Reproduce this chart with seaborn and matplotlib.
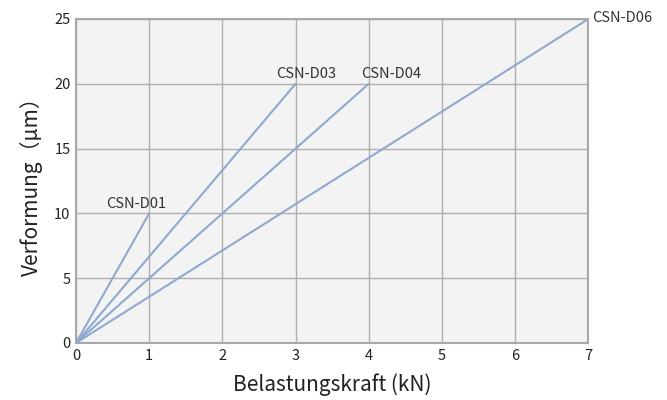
import pandas as pd
import matplotlib
matplotlib.use("Agg")
import matplotlib.pyplot as plt
import seaborn as sns

# Daten: Belastungskraft (kN) -> Verformung (µm)
modelle = ["CSN-D01", "CSN-D03", "CSN-D04", "CSN-D06"]
kraft_max = [1, 3, 4, 7]
verformung_max = [10, 20, 20, 25]

rows = []
for m, k, v in zip(modelle, kraft_max, verformung_max):
    rows.append({"Modell": m, "kraft": 0, "verformung": 0})
    rows.append({"Modell": m, "kraft": k, "verformung": v})
df = pd.DataFrame(rows)

sns.set_style("whitegrid")
plt.rcParams["font.family"] = ["Noto Sans CJK JP", "DejaVu Sans"]

fig = plt.figure(figsize=(6.67, 4), dpi=100)
ax = fig.add_axes([0.114, 0.1425, 0.768, 0.81])
ax.set_facecolor("#f3f3f3")

linie = "#8fa9cf"
sns.lineplot(data=df, x="kraft", y="verformung", units="Modell", estimator=None,
             color=linie, linewidth=1.5, ax=ax, legend=False)

# Beschriftungen an den Linienenden (horizontaler Versatz in kN)
versatz = {"CSN-D01": -0.18, "CSN-D03": 0.15, "CSN-D04": 0.3}
for m, k, v in zip(modelle, kraft_max, verformung_max):
    if m == "CSN-D06":
        ax.text(k + 0.05, v + 0.1, m, ha="left", va="center", fontsize=10.5, color="#333333")
    else:
        ax.text(k + versatz[m], v + 0.2, m, ha="center", va="bottom", fontsize=10.5, color="#333333")

ax.set_xlim(0, 7)
ax.set_ylim(0, 25)
ax.set_xticks(range(0, 8))
ax.set_yticks(range(0, 26, 5))
ax.grid(True, color="#b0b0b0", linewidth=1)
for s in ax.spines.values():
    s.set_visible(True)
    s.set_color("#a8a8a8")
    s.set_linewidth(1.5)
ax.tick_params(length=0, pad=4, labelsize=10.5, colors="#222222")

ax.set_xlabel("Belastungskraft (kN)", fontsize=15, color="#222222", labelpad=8)
ax.set_ylabel("Verformung（μm）", fontsize=15, color="#222222", labelpad=8)

fig.savefig("out.png", dpi=100)
